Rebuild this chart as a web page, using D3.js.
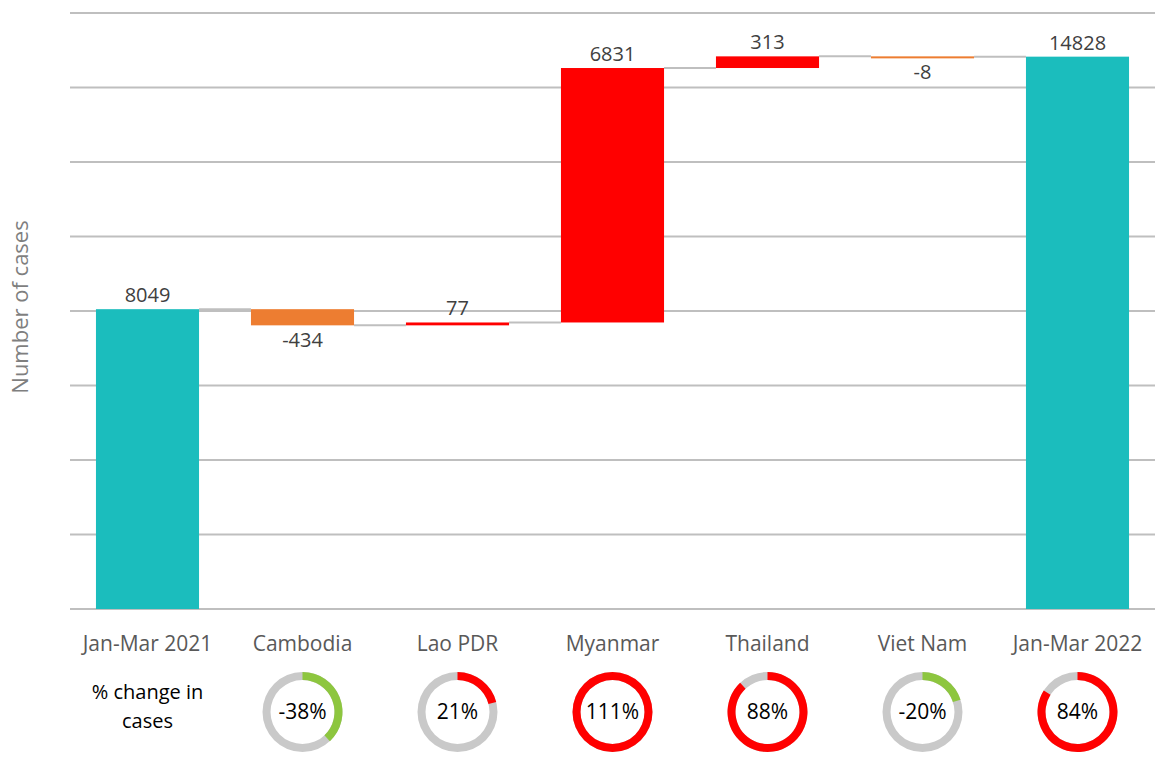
<!DOCTYPE html>
<html>
<head>
<meta charset="utf-8">
<title>Waterfall - cases by country</title>
<script src="https://cdn.jsdelivr.net/npm/d3@7"></script>
<style>
  body { margin: 0; background: #fff; }
  svg { display: block; font-family: "Open Sans", sans-serif; }
</style>
</head>
<body>
<div id="chart"></div>
<script>
// data
var categories = ["Jan-Mar 2021", "Cambodia", "Lao PDR", "Myanmar", "Thailand", "Viet Nam", "Jan-Mar 2022"];
var values = [8049, -434, 77, 6831, 313, -8, 14828];
var isTotal = [true, false, false, false, false, false, true];
var pctChange = [null, -38, 21, 111, 88, -20, 84];
var yTicks = [0, 2000, 4000, 6000, 8000, 10000, 12000, 14000, 16000];

var W = 1157, H = 782;
var svg = d3.select("#chart").append("svg").attr("width", W).attr("height", H);

var x = d3.scaleBand().domain(categories).range([70, 1155])
  .paddingInner(0.335).paddingOuter(0.1675);
var y = d3.scaleLinear().domain([0, 16000]).range([609, 13]);

// build start/end for each bar
var running = 0;
var bars = categories.map(function (c, i) {
  var start, end;
  if (isTotal[i]) { start = 0; end = values[i]; running = values[i]; }
  else { start = running; end = running + values[i]; running = end; }
  return { cat: c, value: values[i], start: start, end: end, total: isTotal[i], pct: pctChange[i] };
});

// gridlines
svg.append("g").selectAll("line").data(yTicks).join("line")
  .attr("x1", 70).attr("x2", 1155)
  .attr("y1", function (d) { return y(d); }).attr("y2", function (d) { return y(d); })
  .attr("stroke", "#bfbfbf").attr("stroke-width", 2);

// connectors between bars
svg.append("g").selectAll("line").data(bars.slice(0, -1)).join("line")
  .attr("x1", function (d) { return x(d.cat) + x.bandwidth(); })
  .attr("x2", function (d, i) { return x(categories[i + 1]); })
  .attr("y1", function (d) { return y(d.end); })
  .attr("y2", function (d) { return y(d.end); })
  .attr("stroke", "#bfbfbf").attr("stroke-width", 2);

function barColor(d) {
  if (d.total) return "#1bbdbd";
  return d.value < 0 ? "#ed7d31" : "#ff0000";
}

svg.append("g").selectAll("rect").data(bars).join("rect")
  .attr("x", function (d) { return x(d.cat); })
  .attr("width", x.bandwidth())
  .attr("y", function (d) { return y(Math.max(d.start, d.end)); })
  .attr("height", function (d) { return Math.max(2, Math.abs(y(d.start) - y(d.end))); })
  .attr("fill", barColor);

// value labels: above for rises, below for falls
svg.append("g").selectAll("text").data(bars).join("text")
  .attr("x", function (d) { return x(d.cat) + x.bandwidth() / 2; })
  .attr("y", function (d) {
    return d.value < 0 ? y(Math.min(d.start, d.end)) + 22 : y(Math.max(d.start, d.end)) - 7;
  })
  .attr("text-anchor", "middle")
  .attr("font-size", 20)
  .attr("fill", "#404040")
  .text(function (d) { return d.value; });

// category labels
svg.append("g").selectAll("text").data(categories).join("text")
  .attr("x", function (d) { return x(d) + x.bandwidth() / 2; })
  .attr("y", 651)
  .attr("text-anchor", "middle")
  .attr("font-size", 21)
  .attr("fill", "#595959")
  .text(function (d) { return d; });

// y axis title
svg.append("text")
  .attr("transform", "translate(28,307) rotate(-90)")
  .attr("text-anchor", "middle")
  .attr("font-size", 22)
  .attr("fill", "#7f7f7f")
  .text("Number of cases");

// % change label
var pl = svg.append("text").attr("text-anchor", "middle").attr("font-size", 20).attr("fill", "#000");
pl.append("tspan").attr("x", x(categories[0]) + x.bandwidth() / 2).attr("y", 699).text("% change in");
pl.append("tspan").attr("x", x(categories[0]) + x.bandwidth() / 2).attr("y", 728).text("cases");

// donuts
var arc = d3.arc().innerRadius(32).outerRadius(40);
var donuts = svg.append("g").selectAll("g").data(bars.filter(function (d) { return d.pct !== null; })).join("g")
  .attr("transform", function (d) { return "translate(" + (x(d.cat) + x.bandwidth() / 2) + ",712)"; });

donuts.append("path")
  .attr("d", arc({ startAngle: 0, endAngle: 2 * Math.PI }))
  .attr("fill", "#c9c9c9");

donuts.append("path")
  .attr("d", function (d) {
    var f = Math.min(Math.abs(d.pct), 100) / 100;
    return arc({ startAngle: 0, endAngle: f * 2 * Math.PI });
  })
  .attr("fill", function (d) { return d.pct < 0 ? "#8dc63f" : "#ff0000"; });

donuts.append("text")
  .attr("text-anchor", "middle")
  .attr("dy", "0.35em")
  .attr("font-size", 21)
  .attr("fill", "#000")
  .text(function (d) { return d.pct + "%"; });
</script>
</body>
</html>
